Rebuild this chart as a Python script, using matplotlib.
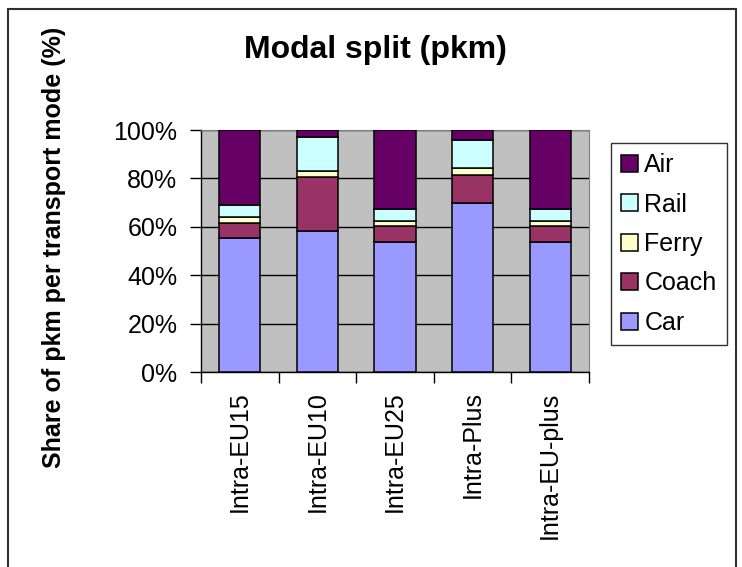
import matplotlib
matplotlib.use("Agg")
import matplotlib.pyplot as plt
import matplotlib.patches as patches
import numpy as np

# data (percent of pkm)
regions = ['Intra-EU15', 'Intra-EU10', 'Intra-EU25', 'Intra-Plus', 'Intra-EU-plus']
car = [55.2, 58.1, 53.7, 69.8, 53.7]
coach = [6.4, 22.6, 6.6, 11.6, 6.6]
ferry = [2.3, 2.4, 2.2, 3.0, 2.2]
rail = [5.2, 13.9, 5.0, 11.6, 5.0]
air = [30.9, 3.0, 32.5, 4.0, 32.5]

modes = ['Car', 'Coach', 'Ferry', 'Rail', 'Air']
colors = ['#9999FF', '#993366', '#FFFFCC', '#CCFFFF', '#660066']

plt.rcParams['font.family'] = ['Liberation Sans', 'DejaVu Sans']

fig = plt.figure(figsize=(7.42, 5.67), dpi=100)
ax = fig.add_axes([201/742, 1-372/567, (589-201)/742, (372-130)/567])
ax.set_facecolor('#C0C0C0')

x = np.arange(len(regions))
bottom = np.zeros(len(regions))
handles = []
for name, vals, c in zip(modes, [car, coach, ferry, rail, air], colors):
    b = ax.bar(x, vals, 0.53, bottom=bottom, color=c, edgecolor='black',
               linewidth=1.1, label=name, zorder=3)
    bottom = bottom + np.array(vals)
    handles.append(b)

ax.set_xlim(-0.5, len(regions) - 0.5)
ax.set_ylim(0, 100)
ax.set_yticks(np.arange(0, 101, 20))
ax.set_yticklabels([f'{v}%' for v in range(0, 101, 20)], fontsize=18)
ax.yaxis.grid(True, color='black', linewidth=1.0, zorder=1)
ax.set_axisbelow(True)

# category boundaries carry the tick marks, names sit in between
ax.set_xticks(np.arange(-0.5, len(regions)), minor=False)
ax.set_xticklabels([])
ax.set_xticks(x, minor=True)
ax.set_xticklabels(regions, minor=True, rotation=90, fontsize=18, va='top')
ax.tick_params(axis='x', which='minor', length=0, pad=14)
ax.tick_params(axis='x', which='major', length=8, width=1.0, direction='out')
ax.tick_params(axis='y', length=8, width=1.0, direction='out', pad=9)

for s in ['top', 'right']:
    ax.spines[s].set_color('#808080')
for s in ['left', 'bottom']:
    ax.spines[s].set_color('black')
    ax.spines[s].set_linewidth(1.0)

leg = ax.legend(handles[::-1], modes[::-1], loc='upper left',
                bbox_to_anchor=(611/742, 1-143/567), bbox_transform=fig.transFigure,
                fontsize=18, frameon=True, fancybox=False, edgecolor='black',
                handlelength=0.68, handleheight=0.68, handletextpad=0.25,
                labelspacing=0.62, borderpad=0.4, borderaxespad=0)
leg.get_frame().set_linewidth(1.0)

fig.text(375/742, 1-58/567, 'Modal split (pkm)', fontsize=23, fontweight='bold',
         ha='center', va='baseline')
fig.text(54/742, 1-247/567, 'Share of pkm per transport mode (%)', fontsize=18,
         fontweight='bold', rotation=90, ha='center', va='center')

# chart border like the spreadsheet frame
fig.patches.append(patches.Rectangle((8/742, -0.01), (736-8)/742, 1-9/567+0.01,
                                     transform=fig.transFigure, fill=False,
                                     edgecolor='#303030', linewidth=1.5))

fig.savefig('out.png', dpi=100)
